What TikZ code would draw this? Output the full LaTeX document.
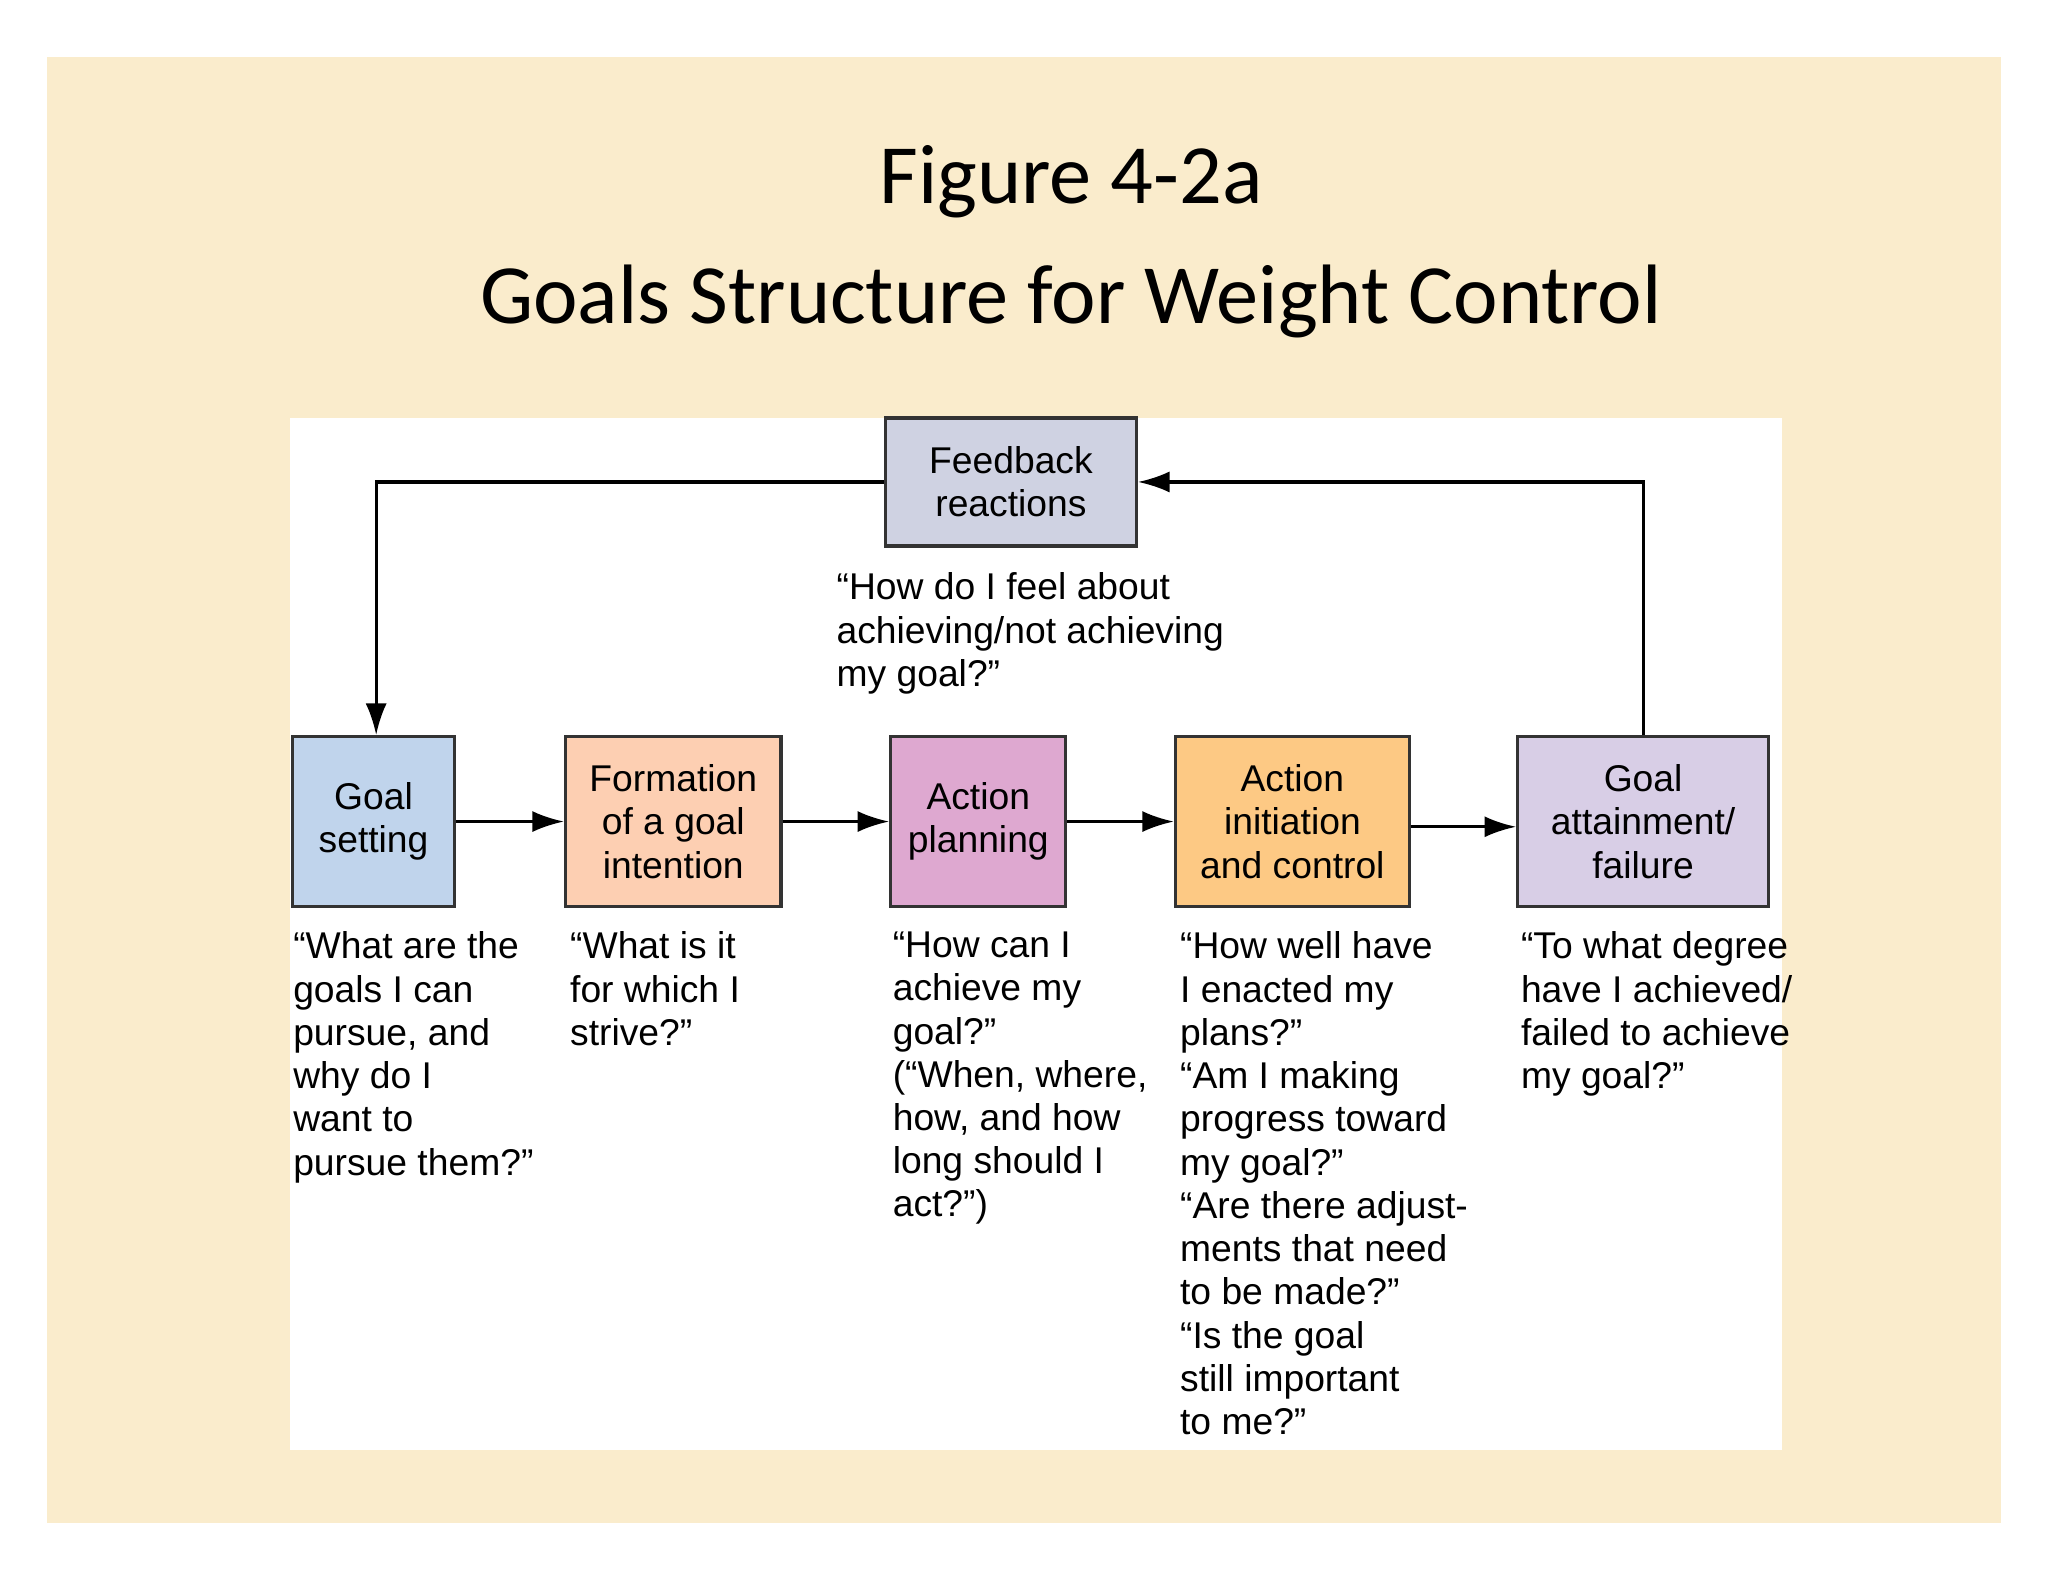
\documentclass[tikz,border=0pt]{standalone}
\usepackage{fontspec}
\setmainfont{Liberation Sans}
\newfontfamily\titlefont{Carlito}
\usetikzlibrary{arrows.meta}
\definecolor{panel cream}{RGB}{250,236,204}
\definecolor{box gray}{RGB}{207,210,226}
\definecolor{box blue}{RGB}{192,212,236}
\definecolor{box peach}{RGB}{253,207,178}
\definecolor{box pink}{RGB}{222,168,208}
\definecolor{box orange}{RGB}{253,201,132}
\definecolor{box lilac}{RGB}{216,206,230}
\tikzset{
  stage/.style = {draw=black!80, line width=0.9pt, align=center, inner sep=0pt},
  ask/.style = {anchor=north west, align=left, inner sep=0pt},
  flow/.style = {line width=0.9pt, -{Latex[length=9pt,width=6pt]}}
}
\begin{document}
\begin{tikzpicture}[x=0.01306cm, y=-0.01306cm,
    font=\fontsize{10.6}{12.3}\selectfont]
		% background
		\useasboundingbox (0,0) rectangle (1568,1211);
		\fill[white] (0,0) rectangle (1568,1211);
		\fill[panel cream] (36,44) rectangle (1532,1166);
		\node[font=\titlefont\fontsize{24}{34}\selectfont, align=center] (title) at (820,185)
			{Figure 4-2a\\Goals Structure for Weight Control};
		\fill[white] (222,320) rectangle (1364,1110);
		% boxes
		\node[stage, fill=box gray, minimum width=192*0.01306cm, minimum height=98*0.01306cm] (feed) at (774,369) {Feedback\\reactions};
		\node[stage, fill=box blue, minimum width=124*0.01306cm, minimum height=130*0.01306cm] (set) at (286,629) {Goal\\setting};
		\node[stage, fill=box peach, minimum width=165*0.01306cm, minimum height=130*0.01306cm] (form) at (515.5,629) {Formation\\of a goal\\intention};
		\node[stage, fill=box pink, minimum width=134*0.01306cm, minimum height=130*0.01306cm] (plan) at (749,629) {Action\\planning};
		\node[stage, fill=box orange, minimum width=179*0.01306cm, minimum height=130*0.01306cm] (act) at (989.5,629) {Action\\initiation\\and control};
		\node[stage, fill=box lilac, minimum width=192*0.01306cm, minimum height=130*0.01306cm] (goal) at (1258,629) {Goal\\attainment/\\failure};
		% arrows
		\draw[flow] (set) -- (form);
		\draw[flow] (form) -- (plan);
		\draw[flow] (plan) -- (act);
		\draw[flow] ([yshift=-4*0.01306cm]act.east) -- ([yshift=-4*0.01306cm]goal.west);
		\draw[flow] (feed.west) -| ([xshift=2*0.01306cm]set.north);
		\draw[flow] (goal.north) |- (feed.east);
		% questions
		\node[ask] (qfeed) at (640,438) {“How do I feel about\\achieving/not achieving\\my goal?”};
		\node[ask] (qset) at (224,713) {“What are the\\goals I can\\pursue, and\\why do I\\want to\\pursue them?”};
		\node[ask] (qform) at (436,713) {“What is it\\for which I\\strive?”};
		\node[ask] (qplan) at (683,713) {“How can I\\achieve my\\goal?”\\(“When, where,\\how, and how\\long should I\\act?”)};
		\node[ask] (qact) at (903,713) {“How well have\\I enacted my\\plans?”\\“Am I making\\progress toward\\my goal?”\\“Are there adjust-\\ments that need\\to be made?”\\“Is the goal\\still important\\to me?”};
		\node[ask] (qgoal) at (1164,713) {“To what degree\\have I achieved/\\failed to achieve\\my goal?”};
	\end{tikzpicture}
\end{document}
